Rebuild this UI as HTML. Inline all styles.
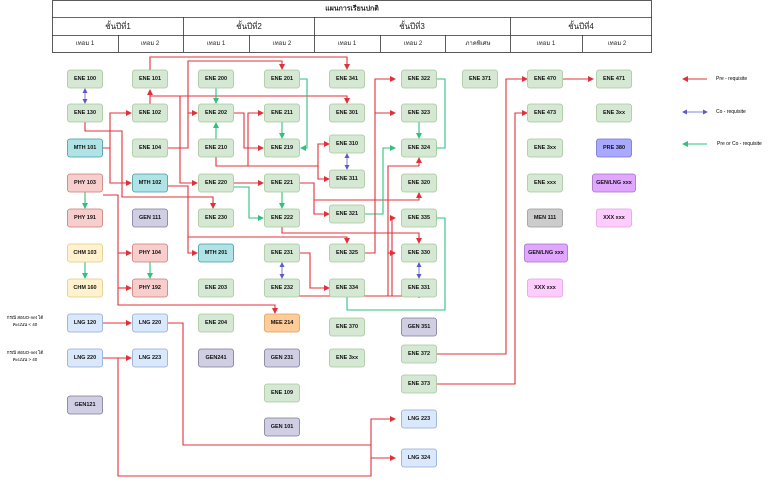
<!DOCTYPE html>
<html><head><meta charset="utf-8"><style>
body{margin:0;background:#fff;width:768px;height:480px;overflow:hidden}
svg text{font-family:"Liberation Sans","Noto Sans CJK SC",sans-serif}
.n{stroke-width:0.8}
.t{font-size:5.5px;font-weight:bold;text-anchor:middle;dominant-baseline:central;fill:#111}
.h{font-size:7px;text-anchor:middle;dominant-baseline:central;fill:#222}
.r{fill:none;stroke:#e0303a;stroke-width:1.1}
.g{fill:none;stroke:#2ec27e;stroke-width:1.1}
.b{fill:none;stroke:#5a5acc;stroke-width:0.8}
</style></head><body>
<svg width="768" height="480" viewBox="0 0 768 480" xmlns="http://www.w3.org/2000/svg">
<defs>
<marker id="ar" markerWidth="6" markerHeight="6" refX="5" refY="3" orient="auto" markerUnits="userSpaceOnUse"><path d="M0,0 L6,3 L0,6 z" fill="#e0303a"/></marker>
<marker id="ag" markerWidth="6" markerHeight="6" refX="5" refY="3" orient="auto" markerUnits="userSpaceOnUse"><path d="M0,0 L6,3 L0,6 z" fill="#2ec27e"/></marker>
<marker id="ab" markerWidth="5" markerHeight="5" refX="4" refY="2.5" orient="auto-start-reverse" markerUnits="userSpaceOnUse"><path d="M0,0 L5,2.5 L0,5 z" fill="#5a5acc"/></marker>
</defs>
<!-- table -->
<g stroke="#333" stroke-width="0.8" fill="none">
<rect x="52.5" y="0.5" width="599" height="52"/>
<line x1="52" y1="17.5" x2="652" y2="17.5"/>
<line x1="52" y1="35.5" x2="652" y2="35.5"/>
<line x1="183.5" y1="17" x2="183.5" y2="52"/>
<line x1="314.5" y1="17" x2="314.5" y2="52"/>
<line x1="510.5" y1="17" x2="510.5" y2="52"/>
<line x1="118.5" y1="35" x2="118.5" y2="52"/>
<line x1="249.5" y1="35" x2="249.5" y2="52"/>
<line x1="380.5" y1="35" x2="380.5" y2="52"/>
<line x1="445.5" y1="35" x2="445.5" y2="52"/>
<line x1="582.5" y1="35" x2="582.5" y2="52"/>
</g>
<text x="352" y="9" class="h" style="font-weight:bold">แผนการเรียนปกติ</text>
<text x="118" y="26.5" class="h" style="font-size:8px">ชั้นปีที่1</text>
<text x="249" y="26.5" class="h" style="font-size:8px">ชั้นปีที่2</text>
<text x="412" y="26.5" class="h" style="font-size:8px">ชั้นปีที่3</text>
<text x="581" y="26.5" class="h" style="font-size:8px">ชั้นปีที่4</text>
<g class="h" style="font-size:6px">
<text x="85" y="44">เทอม 1</text><text x="150" y="44">เทอม 2</text>
<text x="216" y="44">เทอม 1</text><text x="282" y="44">เทอม 2</text>
<text x="347" y="44">เทอม 1</text><text x="413" y="44">เทอม 2</text>
<text x="478" y="44">ภาคพิเศษ</text>
<text x="546" y="44">เทอม 1</text><text x="617" y="44">เทอม 2</text>
</g>

<!-- edges -->
<line x1="85" y1="89" x2="85" y2="103" class="b" marker-start="url(#ab)" marker-end="url(#ab)"/>
<line x1="347" y1="154" x2="347" y2="169" class="b" marker-start="url(#ab)" marker-end="url(#ab)"/>
<line x1="282" y1="263" x2="282" y2="278" class="b" marker-start="url(#ab)" marker-end="url(#ab)"/>
<line x1="419" y1="263" x2="419" y2="278" class="b" marker-start="url(#ab)" marker-end="url(#ab)"/>

<polyline class="r" points="85,122 85,131 122,131 122,197 213,197 213,208" marker-end="url(#ar)"/>
<polyline class="r" points="103,148 110,148 110,113 131,113" marker-end="url(#ar)"/>
<polyline class="r" points="110,148 110,183 131,183" marker-end="url(#ar)"/>
<polyline class="r" points="150,104 150,90" marker-end="url(#ar)"/>
<polyline class="r" points="150,70 150,57 347,57 347,69" marker-end="url(#ar)"/>
<polyline class="r" points="150,96 347,96 347,103" marker-end="url(#ar)"/>
<polyline class="r" points="180,96 180,183 197,183" marker-end="url(#ar)"/>
<polyline class="r" points="168,148 188,148 188,61 282,61 282,69" marker-end="url(#ar)"/>
<polyline class="r" points="188,113 197,113" marker-end="url(#ar)"/>
<polyline class="g" points="216,88 216,103" marker-end="url(#ag)"/>
<polyline class="g" points="216,139 216,123" marker-end="url(#ag)"/>
<polyline class="r" points="234,113 244,113 244,148 263,148" marker-end="url(#ar)"/>
<polyline class="r" points="248,166 248,113 263,113" marker-end="url(#ar)"/>
<polyline class="r" points="216,157 216,166 318,166 318,144 329,144" marker-end="url(#ar)"/>
<polyline class="r" points="318,166 318,179 329,179" marker-end="url(#ar)"/>
<polyline class="g" points="282,122 282,138" marker-end="url(#ag)"/>
<polyline class="g" points="300,79 307,79 307,148 301,148" marker-end="url(#ag)"/>
<polyline class="r" points="234,183 263,183" marker-end="url(#ar)"/>
<polyline class="g" points="234,187 249,187 249,218 263,218" marker-end="url(#ag)"/>
<polyline class="g" points="282,192 282,208" marker-end="url(#ag)"/>
<polyline class="r" points="300,183 314,183 314,214 329,214" marker-end="url(#ar)"/>
<polyline class="r" points="314,200 419,200 419,193" marker-end="url(#ar)"/>
<polyline class="g" points="365,214 383,214 383,148 395,148" marker-end="url(#ag)"/>
<polyline class="g" points="431,79 445,79 445,148 432,148" marker-end="url(#ag)"/>
<polyline class="g" points="419,122 419,138" marker-end="url(#ag)"/>
<polyline class="r" points="365,253 375,253 375,79 395,79" marker-end="url(#ar)"/>
<polyline class="r" points="375,113 395,113" marker-end="url(#ar)"/>
<polyline class="r" points="419,166 388,166 388,296" />
<polyline class="r" points="419,166 419,158" marker-end="url(#ar)"/>
<polyline class="r" points="392,296 392,218 395,218" marker-end="url(#ar)"/>
<polyline class="r" points="388,253 395,253" marker-end="url(#ar)"/>
<polyline class="r" points="288,297 288,296 419,296 419,298" />
<polyline class="r" points="288,297 288,302 419,302 419,298" style="display:none"/>
<polyline class="r" points="288,297 288,296 413,296 419,296 419,290" marker-end="url(#ar)"/>
<polyline class="r" points="282,227 282,233 419,233 419,243" marker-end="url(#ar)"/>
<polyline class="r" points="168,186 188,186 188,253 197,253" marker-end="url(#ar)"/>
<polyline class="r" points="188,237 347,237 347,243" marker-end="url(#ar)"/>
<polyline class="r" points="103,195 118,195 118,305 275,305 275,313" marker-end="url(#ar)"/>
<polyline class="r" points="118,253 131,253" marker-end="url(#ar)"/>
<polyline class="r" points="118,288 131,288" marker-end="url(#ar)"/>
<polyline class="g" points="85,192 85,208" marker-end="url(#ag)"/>
<polyline class="g" points="85,262 85,278" marker-end="url(#ag)"/>
<polyline class="g" points="150,262 150,278" marker-end="url(#ag)"/>
<polyline class="r" points="300,253 310,253 310,288 329,288" marker-end="url(#ar)"/>
<polyline class="g" points="347,297 347,310 445,310 445,218 432,218" marker-end="url(#ag)"/>
<polyline class="r" points="103,323 131,323" marker-end="url(#ar)"/>
<polyline class="r" points="103,358 131,358" marker-end="url(#ar)"/>
<polyline class="r" points="168,323 183,323 183,445 371,445" />
<polyline class="r" points="118,358 118,476 371,476 371,419 395,419" marker-end="url(#ar)"/>
<polyline class="r" points="371,458 395,458" marker-end="url(#ar)"/>
<polyline class="r" points="431,354 506,354 506,79 527,79" marker-end="url(#ar)"/>
<polyline class="r" points="431,384 515,384 515,113 527,113" marker-end="url(#ar)"/>
<polyline class="r" points="563,79 593,79" marker-end="url(#ar)"/>

<!-- legend -->
<line x1="707" y1="79" x2="683" y2="79" class="r" marker-end="url(#ar)"/>
<text x="716" y="79" style="font-size:5px;dominant-baseline:central">Pre - requisite</text>
<line x1="683" y1="112" x2="707" y2="112" class="b" marker-start="url(#ab)" marker-end="url(#ab)"/>
<text x="716" y="112" style="font-size:5px;dominant-baseline:central">Co - requisite</text>
<line x1="707" y1="144" x2="683" y2="144" class="g" marker-end="url(#ag)"/>
<text x="717" y="144" style="font-size:5px;dominant-baseline:central">Pre or Co - requisite</text>

<text x="25" y="319" style="font-size:4.5px;text-anchor:middle">กรณี สอบO-net ได้</text>
<text x="25" y="326" style="font-size:4.5px;text-anchor:middle">คะแนน &lt; 40</text>
<text x="25" y="354" style="font-size:4.5px;text-anchor:middle">กรณี สอบO-net ได้</text>
<text x="25" y="361" style="font-size:4.5px;text-anchor:middle">คะแนน &gt; 40</text>

<!-- nodes -->
<g id="nodes"></g>
</svg>
<script>
var C={g:["#d5e8d4","#a6c79a"],m:["#b0e3e6","#3f9aa1"],p:["#f8cecc","#c97a77"],y:["#fff2cc","#e0ca85"],l:["#dae8fc","#8fa9d3"],v:["#d0cee2","#7d7999"],o:["#ffcc99","#d9a25c"],pr:["#a9a9ff","#7070d0"],gl:["#e1a6ff","#a56fc8"],x:["#ffccff","#e0a0e0"],gr:["#cccccc","#999999"]};
var N=[
[85,79,"ENE 100","g"],[85,113,"ENE 130","g"],[85,148,"MTH 101","m"],[85,183,"PHY 103","p"],[85,218,"PHY 191","p"],[85,253,"CHM 103","y"],[85,288,"CHM 160","y"],[85,323,"LNG 120","l"],[85,358,"LNG 220","l"],[85,405,"GEN121","v"],
[150,79,"ENE 101","g"],[150,113,"ENE 102","g"],[150,148,"ENE 104","g"],[150,183,"MTH 102","m"],[150,218,"GEN 111","v"],[150,253,"PHY 104","p"],[150,288,"PHY 192","p"],[150,323,"LNG 220","l"],[150,358,"LNG 223","l"],
[216,79,"ENE 200","g"],[216,113,"ENE 202","g"],[216,148,"ENE 210","g"],[216,183,"ENE 220","g"],[216,218,"ENE 230","g"],[216,253,"MTH 201","m"],[216,288,"ENE 203","g"],[216,323,"ENE 204","g"],[216,358,"GEN241","v"],
[282,79,"ENE 201","g"],[282,113,"ENE 211","g"],[282,148,"ENE 219","g"],[282,183,"ENE 221","g"],[282,218,"ENE 222","g"],[282,253,"ENE 231","g"],[282,288,"ENE 232","g"],[282,323,"MEE 214","o"],[282,358,"GEN 231","v"],[282,393,"ENE 109","g"],[282,427,"GEN 101","v"],
[347,79,"ENE 341","g"],[347,113,"ENE 301","g"],[347,144,"ENE 310","g"],[347,179,"ENE 311","g"],[347,214,"ENE 321","g"],[347,253,"ENE 325","g"],[347,288,"ENE 334","g"],[347,327,"ENE 370","g"],[347,358,"ENE 3xx","g"],
[419,79,"ENE 322","g"],[419,113,"ENE 323","g"],[419,148,"ENE 324","g"],[419,183,"ENE 320","g"],[419,218,"ENE 335","g"],[419,253,"ENE 330","g"],[419,288,"ENE 331","g"],[419,327,"GEN 351","v"],[419,354,"ENE 372","g"],[419,384,"ENE 373","g"],[419,419,"LNG 223","l"],[419,458,"LNG 324","l"],
[480,79,"ENE 371","g"],
[545,79,"ENE 470","g"],[545,113,"ENE 473","g"],[545,148,"ENE 3xx","g"],[545,183,"ENE xxx","g"],[545,218,"MEN 111","gr"],[546,253,"GEN/LNG xxx","gl",43],[545,288,"XXX xxx","x"],
[614,79,"ENE 471","g"],[614,113,"ENE 3xx","g"],[614,148,"PRE 380","pr"],[614,183,"GEN/LNG xxx","gl",43],[614,218,"XXX xxx","x"]];
var s="";N.forEach(function(n){var w=n[4]||35,c=C[n[3]];s+='<rect class="n" x="'+(n[0]-w/2)+'" y="'+(n[1]-9)+'" width="'+w+'" height="18" rx="2.5" fill="'+c[0]+'" stroke="'+c[1]+'"/><text class="t" x="'+n[0]+'" y="'+n[1]+'">'+n[2]+'</text>';});
document.getElementById("nodes").innerHTML=s;
</script>
</body></html>
